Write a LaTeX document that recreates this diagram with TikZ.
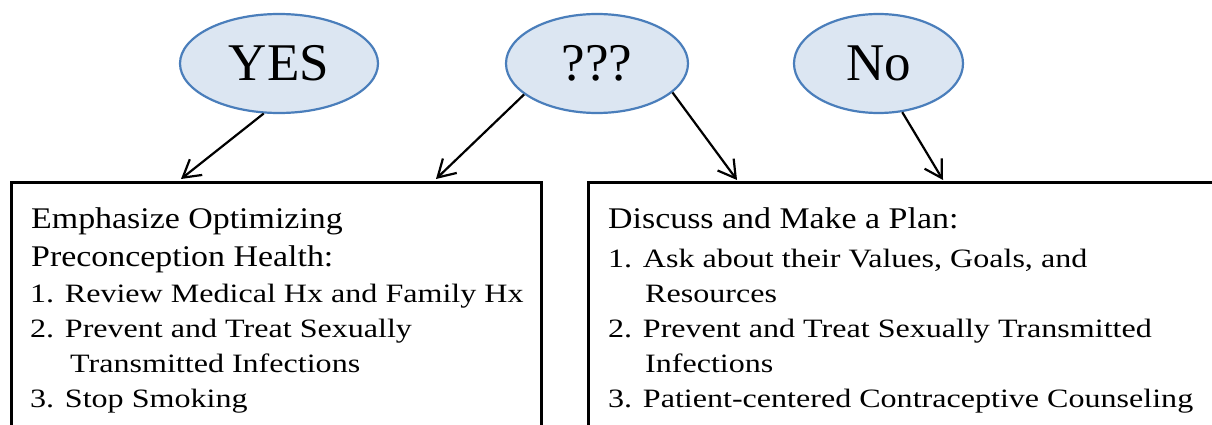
\documentclass[tikz,border=0pt]{standalone}
\usepackage{fontspec}
\setmainfont{Liberation Serif}
\newfontfamily\headfont[FakeStretch=1.13]{Liberation Serif}
\newfontfamily\listfont[FakeStretch=1.21]{Liberation Serif}
\usetikzlibrary{arrows.meta,shapes.geometric}
\definecolor{ovalfill}{HTML}{DCE6F2}
\definecolor{ovalline}{HTML}{4A7EBB}
\begin{document}
\begin{tikzpicture}[x=1pt,y=-1pt,
    oval/.style={ellipse,draw=ovalline,fill=ovalfill,line width=2.2pt,inner sep=0pt,
        minimum height=99pt,font=\fontsize{53}{60}\selectfont},
    panel/.style={draw,line width=2.5pt,anchor=north west,minimum height=270pt},
    headtext/.style={anchor=base west,align=left,inner sep=0pt,font=\headfont\fontsize{30}{38}\selectfont},
    listtext/.style={anchor=base west,align=left,inner sep=0pt,font=\listfont\fontsize{26.5}{35}\selectfont},
    arr/.style={line width=2.2pt,-{Straight Barb[length=17pt,width=20pt,line width=2.2pt]}}]
    \useasboundingbox (0,0) rectangle (1212,425);
    \clip (0,0) rectangle (1212,425);
    \begin{scope}
        \node[oval,minimum width=198pt] (yes) at (279,63.5) {YES};
        \node[oval,minimum width=182pt] (unsure) at (597,63.5) {???};
        \node[oval,minimum width=169pt] (no) at (878.5,63.5) {No};
    \end{scope}
    \begin{scope}
        \node[panel,minimum width=530pt] (yesbox) at (10,181) {};
        \node[panel,minimum width=650pt] (planbox) at (587,181) {};
    \end{scope}
    \coordinate (t1) at (181,179);
    \coordinate (t2) at (436,179);
    \coordinate (t3) at (737,180);
    \coordinate (t4) at (943,180);
    \begin{scope}
        \draw[arr] (yes.253) -- (t1);
        \draw[arr] (unsure.203) -- (t2);
        \draw[arr] (unsure.339) -- (t3);
        \draw[arr] (no.296) -- (t4);
    \end{scope}
    % left panel text (base = last line)
    \node[headtext] (yeshead) at (31,266) {Emphasize Optimizing\\Preconception Health:};
    \node[listtext] (yeslist) at (30,407) {1. Review Medical Hx and Family Hx\\
        2. Prevent and Treat Sexually\\
        \hspace*{40pt}Transmitted Infections\\
        3. Stop Smoking};
    % right panel text
    \node[headtext] (planhead) at (608,228) {Discuss and Make a Plan:};
    \node[listtext] (planlist) at (608,407) {1. Ask about their Values, Goals, and\\
        \hspace*{37pt}Resources\\
        2. Prevent and Treat Sexually Transmitted\\
        \hspace*{37pt}Infections\\
        3. Patient-centered Contraceptive Counseling};
\end{tikzpicture}
\end{document}
